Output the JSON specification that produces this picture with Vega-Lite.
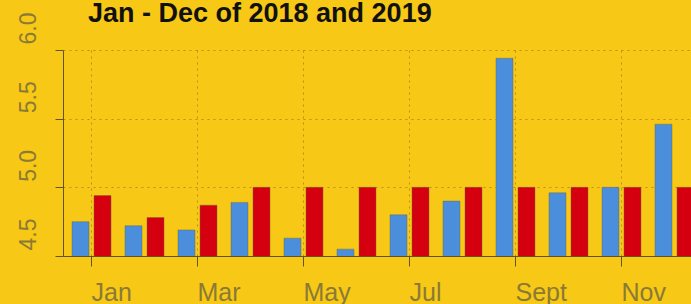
{
  "$schema": "https://vega.github.io/schema/vega-lite/v6.json",
  "autosize": {"type": "none"},
  "width": 628,
  "height": 206,
  "padding": {"left": 63, "top": 50, "right": 0, "bottom": 48},
  "background": "#F7C816",
  "title": {"text": "Jan - Dec of 2018 and 2019", "anchor": "start", "frame": "group", "dx": 25, "dy": 20, "fontSize": 27, "font": "Liberation Sans", "fontWeight": "bold", "color": "#111111"},
  "config": {"view": {"stroke": null}},
  "data": {"values": [
    {"month": "Jan", "year": "2018", "value": 4.75},
    {"month": "Jan", "year": "2019", "value": 4.94},
    {"month": "Feb", "year": "2018", "value": 4.72},
    {"month": "Feb", "year": "2019", "value": 4.78},
    {"month": "Mar", "year": "2018", "value": 4.69},
    {"month": "Mar", "year": "2019", "value": 4.87},
    {"month": "Apr", "year": "2018", "value": 4.89},
    {"month": "Apr", "year": "2019", "value": 5.0},
    {"month": "May", "year": "2018", "value": 4.63},
    {"month": "May", "year": "2019", "value": 5.0},
    {"month": "Jun", "year": "2018", "value": 4.55},
    {"month": "Jun", "year": "2019", "value": 5.0},
    {"month": "Jul", "year": "2018", "value": 4.8},
    {"month": "Jul", "year": "2019", "value": 5.0},
    {"month": "Aug", "year": "2018", "value": 4.9},
    {"month": "Aug", "year": "2019", "value": 5.0},
    {"month": "Sept", "year": "2018", "value": 5.94},
    {"month": "Sept", "year": "2019", "value": 5.0},
    {"month": "Oct", "year": "2018", "value": 4.96},
    {"month": "Oct", "year": "2019", "value": 5.0},
    {"month": "Nov", "year": "2018", "value": 5.0},
    {"month": "Nov", "year": "2019", "value": 5.0},
    {"month": "Dec", "year": "2018", "value": 5.46},
    {"month": "Dec", "year": "2019", "value": 5.0}
  ]},
  "mark": {"type": "bar", "clip": true, "stroke": "#6b6440", "strokeWidth": 0.7, "strokeOpacity": 0.6},
  "encoding": {
    "x": {
      "field": "month", "type": "nominal",
      "sort": ["Jan", "Feb", "Mar", "Apr", "May", "Jun", "Jul", "Aug", "Sept", "Oct", "Nov", "Dec"],
      "scale": {"range": [0, 640], "paddingInner": 0.264, "paddingOuter": 0.17},
      "axis": {
        "values": ["Jan", "Mar", "May", "Jul", "Sept", "Nov"],
        "title": null, "labelAngle": 0, "labelAlign": "left", "labelBaseline": "top",
        "labelPadding": 14, "labelFontSize": 25, "labelFont": "Liberation Sans", "labelColor": "#8A7A35",
        "tickSize": 10, "tickColor": "#5E5424", "domainColor": "#5E5424",
        "grid": true, "gridDash": [2, 4], "gridColor": "#B98E1C", "gridWidth": 1
      }
    },
    "xOffset": {"field": "year", "type": "nominal", "scale": {"paddingInner": 0.227, "paddingOuter": 0}},
    "y": {
      "field": "value", "type": "quantitative",
      "scale": {"domain": [4.5, 6.0], "zero": false, "nice": false},
      "axis": {
        "values": [4.5, 5.0, 5.5, 6.0], "format": ".1f", "title": null,
        "labelAngle": 270, "labelAlign": "left", "labelBaseline": "alphabetic",
        "labelOffset": -6, "labelPadding": 20, "labelFontSize": 23, "labelFont": "Liberation Sans",
        "labelColor": "#8A7A35", "labelFlush": false, "labelOverlap": false,
        "tickSize": 8, "tickColor": "#5E5424", "domainColor": "#5E5424",
        "grid": true, "gridDash": [2, 4], "gridColor": "#B98E1C", "gridWidth": 1
      }
    },
    "color": {"field": "year", "type": "nominal", "scale": {"domain": ["2018", "2019"], "range": ["#4A8EDC", "#D4000F"]}, "legend": null}
  }
}
